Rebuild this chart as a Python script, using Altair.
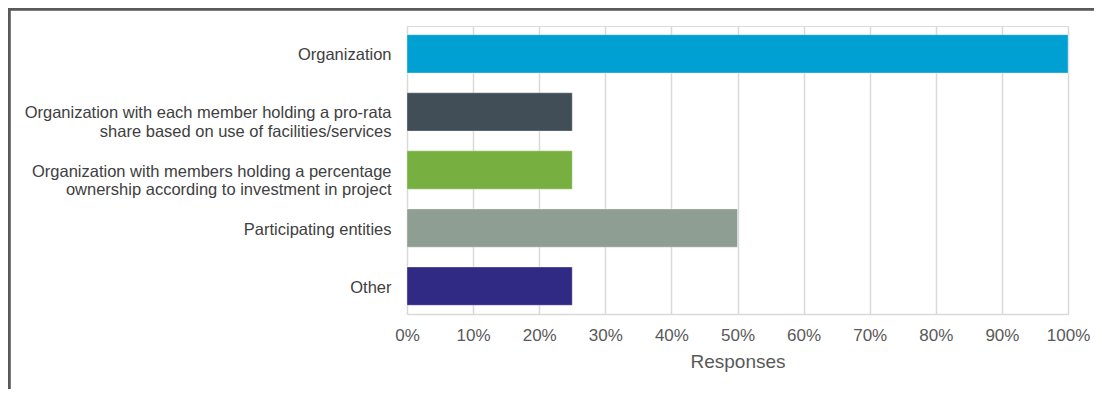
import altair as alt
import pandas as pd

categories = [
    "Organization",
    "Organization with each member holding a pro-rata|share based on use of facilities/services",
    "Organization with members holding a percentage|ownership according to investment in project",
    "Participating entities",
    "Other",
]
values = [1.00, 0.25, 0.25, 0.50, 0.25]
colors = ["#00A0D2", "#414D57", "#77B041", "#8F9E93", "#312A85"]
x_ticks = [0.0, 0.1, 0.2, 0.3, 0.4, 0.5, 0.6, 0.7, 0.8, 0.9, 1.0]

df = pd.DataFrame({"category": categories, "value": values})

FONT = "Liberation Sans"

bars = alt.Chart(df).mark_bar(stroke="#ffffff", strokeOpacity=0.35, strokeWidth=1).encode(
    y=alt.Y(
        "category:N",
        sort=categories,
        title=None,
        scale=alt.Scale(paddingInner=0.34, paddingOuter=0.15),
        axis=alt.Axis(
            labelExpr="split(datum.label, '|')",
            labelFont=FONT,
            labelFontSize=16.5,
            labelColor="#404040",
            labelLineHeight=18.5,
            labelPadding=16,
            labelOffset=1.5,
            ticks=False,
            domain=False,
            grid=False,
            labelLimit=500,
        ),
    ),
    x=alt.X(
        "value:Q",
        title="Responses",
        scale=alt.Scale(domain=[0, 1]),
        axis=alt.Axis(
            values=x_ticks,
            format=".0%",
            labelFont=FONT,
            labelFontSize=17,
            labelColor="#595959",
            labelPadding=13,
            labelFlush=False,
            ticks=False,
            domain=True,
            domainColor="#D9D9D9",
            domainWidth=1.5,
            grid=True,
            gridColor="#D9D9D9",
            gridWidth=1.5,
            titleFont=FONT,
            titleFontSize=19,
            titleFontWeight="normal",
            titleColor="#595959",
            titlePadding=9.5,
        ),
    ),
    color=alt.Color(
        "category:N",
        scale=alt.Scale(domain=categories, range=colors),
        legend=None,
    ),
)

frame_top = alt.Chart(df).mark_rule(color="#595959", strokeWidth=2.5).encode(
    x=alt.value(-399), x2=alt.value(700), y=alt.value(-17)
)
frame_left = alt.Chart(df).mark_rule(color="#595959", strokeWidth=2.5).encode(
    x=alt.value(-398), y=alt.value(-18), y2=alt.value(380)
)

chart = alt.layer(bars, frame_top, frame_left).properties(
    width=661,
    height=288,
    autosize=alt.AutoSizeParams(type="none"),
    padding={"left": 399, "top": 18, "right": 26, "bottom": 75},
).configure_view(stroke=None).configure(background="#ffffff")

chart.save("out.html", embed_options={"renderer": "svg", "actions": False})
